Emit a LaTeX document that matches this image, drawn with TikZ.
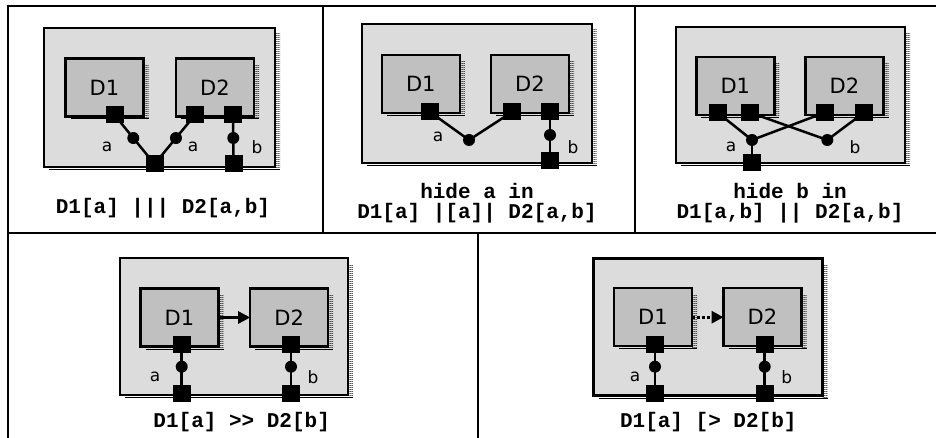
\documentclass[tikz,border=0pt]{standalone}
\usepackage{fontspec}
\setmainfont{DejaVu Sans}
\newfontfamily\capfont{Liberation Mono}
\usetikzlibrary{patterns.meta,calc,arrows.meta}
\definecolor{outergray}{HTML}{DCDCDC}
\definecolor{innergray}{HTML}{C0C0C0}
\tikzdeclarepattern{
  name=hshade,
  type=uncolored,
  bounding box={(0pt,0pt) and (2pt,2pt)},
  tile size={(2pt,2pt)},
  code={\pgfpathrectangle{\pgfpoint{0pt}{0pt}}{\pgfpoint{2pt}{1pt}}\pgfusepath{fill}}
}
\newcommand\boxshade[1]{%
  \fill[pattern=hshade] ($(#1.north east)+(0,6)$) rectangle ($(#1.south east)+(5,2)$);
  \draw[line width=1pt] ($(#1.south west)+(5,2.5)$) -- ($(#1.south east)+(5,2.5)$);}
\tikzset{
  grid/.style={line width=2.4pt},
  outerbox/.style={draw, line width=2.4pt, fill=outergray, inner sep=0pt, outer sep=0pt},
  dbox/.style={draw, line width=2.4pt, fill=innergray, inner sep=0pt, outer sep=0pt,
    minimum width=78pt, minimum height=58pt, font=\fontsize{21}{22}\selectfont},
  port/.style={fill=black, inner sep=0pt, minimum width=18pt, minimum height=17pt},
  jdot/.style={circle, fill=black, inner sep=0pt, minimum size=12pt},
  wire/.style={line width=2.5pt},
  lbl/.style={font=\fontsize{17}{18}\selectfont, inner sep=0pt},
  captext/.style={font=\capfont\bfseries\fontsize{21}{20}\selectfont, align=center, inner sep=0pt},
}
\begin{document}
\begin{tikzpicture}[x=1pt,y=-1pt]
\useasboundingbox (0,0) rectangle (936,438);
% table lines
\draw[grid] (7.7,5.8) -- (936,5.8);
\draw[grid] (7.7,4.6) -- (7.7,438);
\draw[grid] (7.7,233.3) -- (936,233.3);
\draw[grid] (322.8,5.8) -- (322.8,233.3);
\draw[grid] (635,5.8) -- (635,233.3);
\draw[grid] (478,233.3) -- (478,438);

% ---------- panel 1 ----------
\node[outerbox, minimum width=231pt, minimum height=139pt] (o1) at (159.5,97.5) {};
\boxshade{o1}
\node[dbox] (a1) at (104.5,87.5) {D1};
\boxshade{a1}
\node[dbox] (a2) at (215,87.5) {D2};
\boxshade{a2}
\node[port] (ap1) at (114.5,115) {};
\node[port] (ap2) at (195,115) {};
\node[port] (ap3) at (233,115) {};
\node[port] (ap4) at (154.5,164) {};
\node[port] (ap5) at (233.5,164) {};
\draw[wire] (ap1.center) -- (ap4.center) -- (ap2.center);
\draw[wire] (ap3.center) -- (ap5.center);
\node[jdot] (ad1) at ($(ap1.center)!0.47!(ap4.center)$) {};
\node[jdot] (ad2) at ($(ap2.center)!0.47!(ap4.center)$) {};
\node[jdot] (ad3) at (233.3,138) {};
\node[lbl] (al1) at (107,147) {a};
\node[lbl] (al2) at (193,147) {a};
\node[lbl] (al3) at (257,147) {b};
\node[captext] (acap) at (163,208) {D1[a] ||| D2[a,b]};

% ---------- panel 2 ----------
\node[outerbox, minimum width=230pt, minimum height=139pt] (o2) at (476.7,93.5) {};
\boxshade{o2}
\node[dbox] (b1) at (420.8,84) {D1};
\boxshade{b1}
\node[dbox] (b2) at (530,84) {D2};
\boxshade{b2}
\node[port] (bp1) at (430,112) {};
\node[port] (bp2) at (512,112) {};
\node[port] (bp3) at (550,112) {};
\node[port] (bp4) at (550,160.5) {};
\node[jdot] (bd1) at (469,140) {};
\node[jdot] (bd2) at (550,135) {};
\draw[wire] (bp1.center) -- (bd1.center) -- (bp2.center);
\draw[wire] (bp3.center) -- (bp4.center);
\node[lbl] (bl1) at (438,137) {a};
\node[lbl] (bl2) at (573,147) {b};
\node[captext] (bcap) at (477,203) {hide a in\\D1[a] |[a]| D2[a,b]};

% ---------- panel 3 ----------
\node[outerbox, minimum width=229pt, minimum height=136pt] (o3) at (790.5,95) {};
\boxshade{o3}
\node[dbox] (c1) at (735.3,86) {D1};
\boxshade{c1}
\node[dbox] (c2) at (844.5,86) {D2};
\boxshade{c2}
\node[port] (cp1) at (717.5,112.5) {};
\node[port] (cp2) at (750,112.5) {};
\node[port] (cp3) at (825,112.5) {};
\node[port] (cp4) at (864,112.5) {};
\node[port] (cp5) at (752,162.7) {};
\node[jdot] (cd1) at (752,140) {};
\node[jdot] (cd2) at (827.3,140) {};
\draw[wire] (cp1.center) -- (cd1.center) -- (cp3.center);
\draw[wire] (cd1.center) -- (cp5.center);
\draw[wire] (cp2.center) -- (cd2.center) -- (cp4.center);
\node[lbl] (cl1) at (731,147) {a};
\node[lbl] (cl2) at (855,147) {b};
\node[captext] (ccap) at (790,203) {hide b in\\D1[a,b] || D2[a,b]};

% ---------- panel 4 ----------
\node[outerbox, minimum width=228pt, minimum height=137pt] (o4) at (234,326.5) {};
\boxshade{o4}
\node[dbox] (e1) at (179.5,317.5) {D1};
\boxshade{e1}
\node[dbox] (e2) at (289.2,317.5) {D2};
\boxshade{e2}
\draw[wire, -{Triangle[length=12pt,width=12pt]}] (e1.east) -- (e2.west);
\node[port] (ep1) at (181.7,344) {};
\node[port] (ep2) at (291,344) {};
\node[port] (ep3) at (181.7,393) {};
\node[port] (ep4) at (291,393) {};
\draw[wire] (ep1.center) -- (ep3.center);
\draw[wire] (ep2.center) -- (ep4.center);
\node[jdot] (ed1) at (181.7,366.7) {};
\node[jdot] (ed2) at (291,366.7) {};
\node[lbl] (el1) at (155,376.7) {a};
\node[lbl] (el2) at (313,376.7) {b};
\node[captext] (ecap) at (241.7,421.7) {D1[a] >> D2[b]};

% ---------- panel 5 ----------
\node[outerbox, minimum width=229pt, minimum height=137pt] (o5) at (708,327) {};
\boxshade{o5}
\node[dbox] (f1) at (653,317.2) {D1};
\boxshade{f1}
\node[dbox] (f2) at (762.5,317.2) {D2};
\boxshade{f2}
\draw[line width=3pt, dash pattern=on 3pt off 2pt, -{Triangle[length=12pt,width=12pt]}] (f1.east) -- (f2.west);
\node[port] (fp1) at (655,344) {};
\node[port] (fp2) at (764.7,344) {};
\node[port] (fp3) at (655,393) {};
\node[port] (fp4) at (764.7,393) {};
\draw[wire] (fp1.center) -- (fp3.center);
\draw[wire] (fp2.center) -- (fp4.center);
\node[jdot] (fd1) at (655,366.7) {};
\node[jdot] (fd2) at (764.7,366.7) {};
\node[lbl] (fl1) at (635,376.7) {a};
\node[lbl] (fl2) at (786.7,376.7) {b};
\node[captext] (fcap) at (708.3,421.7) {D1[a] [> D2[b]};
\end{tikzpicture}
\end{document}
